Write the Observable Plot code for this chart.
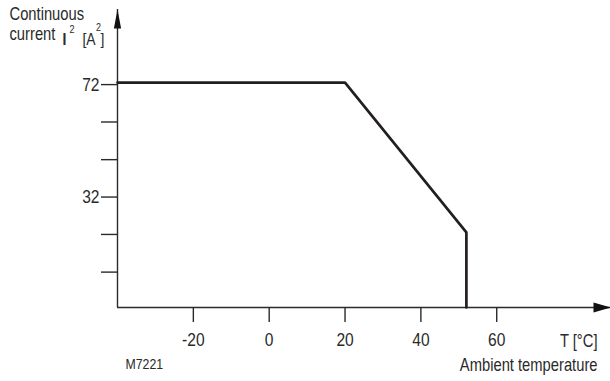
<!DOCTYPE html>
<html><head><meta charset="utf-8">
<script src="https://cdn.jsdelivr.net/npm/d3@7"></script>
<script src="https://cdn.jsdelivr.net/npm/@observablehq/plot@0.6"></script>
<style>
html,body{margin:0;padding:0;background:#fff;}
</style></head><body><div id="chart"></div>
<script>
// Derating curve: ambient temperature (°C) vs continuous current I² (A²)
const curveT = [-40, 20, 52, 52];
const curveI2 = [72, 72, 18.7, -8];
const xTicks = [-20, 0, 20, 40, 60];
const yTicks = [72, 58.7, 45.3, 32, 18.7, 5.3];
const yLabeled = [72, 32];
const xDomain = [-40, 90];
const yDomain = [-8, 98];

const curve = curveT.map((t, i) => ({t, i2: curveI2[i]}));

const FONT = "'Liberation Sans', Arial, sans-serif";
const INK = "#2a2a2a";
const ML = 117, MT = 9;
const NARROW = 0.82; // horizontal compression to mimic a condensed face

const arrowUp = { draw(ctx) { ctx.moveTo(0, 0); ctx.lineTo(3.6, 19); ctx.lineTo(-3.6, 19); ctx.closePath(); } };
const arrowRight = { draw(ctx) { ctx.moveTo(0, 0); ctx.lineTo(-17, 5); ctx.lineTo(-17, -5); ctx.closePath(); } };

function label(text, px, py, opts = {}) {
  return Plot.text([text], {
    text: d => d,
    frameAnchor: "top-left",
    dx: px - ML, dy: py - MT,
    lineAnchor: "bottom",
    textAnchor: "start",
    fontSize: 18,
    fill: INK,
    ...opts
  });
}

const chart = Plot.plot({
  width: 610,
  height: 381,
  marginLeft: ML,
  marginRight: 0,
  marginTop: MT,
  marginBottom: 74,
  style: {fontFamily: FONT, color: INK, background: "#fff"},
  x: {domain: xDomain},
  y: {domain: yDomain},
  marks: [
    Plot.axisX({ticks: xTicks, tickSize: 15, tickPadding: 10, fontSize: 19, strokeWidth: 1.4, tickFormat: d => `${d}`, label: null}),
    Plot.axisY({ticks: yTicks, tickSize: 16, tickPadding: 2, fontSize: 19, strokeWidth: 1.4, dy: 2, tickFormat: d => yLabeled.includes(d) ? `${d}` : "", label: null}),
    Plot.ruleY([yDomain[0]], {x1: xDomain[0], x2: xDomain[1], stroke: INK, strokeWidth: 1.4}),
    Plot.ruleX([xDomain[0]], {y1: yDomain[0], y2: yDomain[1], stroke: INK, strokeWidth: 1.4}),
    Plot.dot([{x: xDomain[0], y: yDomain[1]}], {x: "x", y: "y", symbol: arrowUp, fill: "#111", stroke: "none"}),
    Plot.dot([{x: xDomain[1], y: yDomain[0]}], {x: "x", y: "y", symbol: arrowRight, fill: "#111", stroke: "none"}),
    Plot.line(curve, {x: "t", y: "i2", stroke: "#231f20", strokeWidth: 2.7, strokeLinejoin: "miter"}),
    // annotations
    label("Continuous", 9, 19.5),
    label("current", 9, 39),
    label("I", 62, 44, {fontWeight: "bold", fontSize: 17}),
    label("2", 69, 32, {fontSize: 11}),
    label("[A", 82, 44, {fontSize: 17}),
    label("2", 95.5, 30, {fontSize: 11}),
    label("]", 100, 44, {fontSize: 17}),
    label("T [°C]", 597, 346, {textAnchor: "end"}),
    label("Ambient temperature", 597, 370, {textAnchor: "end"}),
    label("M7221", 125, 368, {fontSize: 15})
  ]
});

// compress every text horizontally around its own anchor point
chart.querySelectorAll("text").forEach(t => {
  const x = t.getAttribute("x");
  if (x != null && isFinite(+x)) t.setAttribute("x", +x / NARROW);
  const tr = t.getAttribute("transform") || "";
  t.setAttribute("transform", `${tr} scale(${NARROW},1)`.trim());
});
document.getElementById("chart").appendChild(chart);
</script>
</body></html>
